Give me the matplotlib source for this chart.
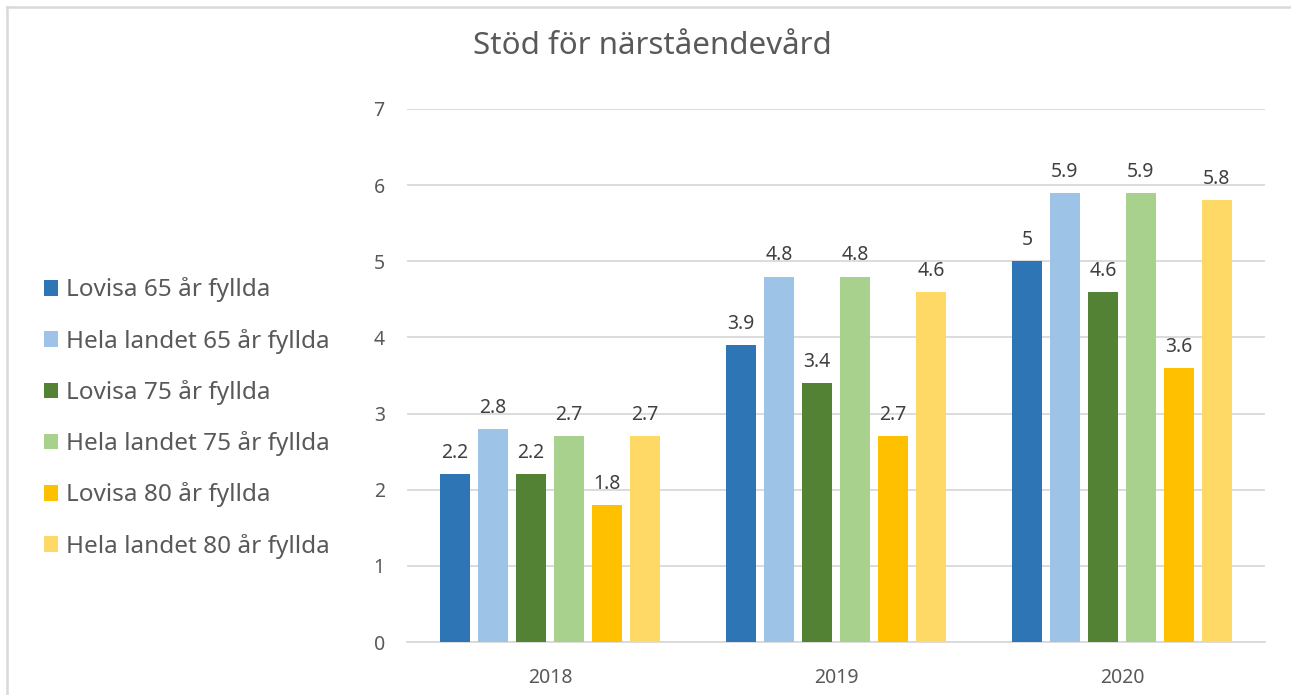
import numpy as np
import matplotlib
matplotlib.use("Agg")
import matplotlib.pyplot as plt
from matplotlib.lines import Line2D

plt.rcParams['font.family'] = ['Noto Sans', 'DejaVu Sans']

years = ["2018", "2019", "2020"]
series = ["Lovisa 65 år fyllda", "Hela landet 65 år fyllda",
          "Lovisa 75 år fyllda", "Hela landet 75 år fyllda",
          "Lovisa 80 år fyllda", "Hela landet 80 år fyllda"]
lovisa_65 = [2.2, 3.9, 5]
hela_65 = [2.8, 4.8, 5.9]
lovisa_75 = [2.2, 3.4, 4.6]
hela_75 = [2.7, 4.8, 5.9]
lovisa_80 = [1.8, 2.7, 3.6]
hela_80 = [2.7, 4.6, 5.8]
values = [lovisa_65, hela_65, lovisa_75, hela_75, lovisa_80, hela_80]
colors = ["#2E75B6", "#9DC3E6", "#548235", "#A9D18E", "#FFC000", "#FFD966"]

text_col = "#595959"
grid_col = "#D9D9D9"

fig = plt.figure(figsize=(12.91, 6.95), dpi=100)
ax = fig.add_axes([407/1291, 53/695, 858/1291, 533/695])

x = np.arange(len(years))
bw = 30/286
step = 38/286
for i, (name, vals, c) in enumerate(zip(series, values, colors)):
    pos = x + (i - 2.5)*step
    bars = ax.bar(pos, vals, width=bw, color=c, label=name, zorder=3)
    for b, v in zip(bars, vals):
        ax.annotate(f"{v:g}", (b.get_x() + b.get_width()/2, v), xytext=(0, 8),
                    textcoords="offset points", ha="center", va="bottom",
                    fontsize=14, color="#404040")

ax.set_xlim(-0.5, 2.5)
ax.set_ylim(0, 7)
ax.set_yticks(range(8))
ax.set_xticks(x)
ax.set_xticklabels(years)
ax.yaxis.grid(True, color=grid_col, linewidth=1.3, zorder=0)
for s in ["top", "right", "left"]:
    ax.spines[s].set_visible(False)
ax.spines["bottom"].set_color(grid_col)
ax.spines["bottom"].set_linewidth(1.3)
ax.tick_params(axis="both", length=0, colors=text_col, labelsize=14)
ax.tick_params(axis="y", pad=16)
ax.tick_params(axis="x", pad=19)

fig.text(652/1291, 1 - 46/695, "Stöd för närståendevård", ha="center", va="center",
         fontsize=22.5, color=text_col)

handles, labels = ax.get_legend_handles_labels()
leg = fig.legend(handles, labels, loc="center left", bbox_to_anchor=(22/1291, 1 - 418/695),
                 frameon=False, fontsize=17.5, labelcolor=text_col,
                 handlelength=0.6, handleheight=0.6, handletextpad=0.3,
                 labelspacing=1.08)

# chart area border (only top and left edges visible in the crop)
fig.lines.append(Line2D([7/1291, 1], [1 - 7/695, 1 - 7/695], transform=fig.transFigure,
                        color=grid_col, linewidth=1.8))
fig.lines.append(Line2D([7/1291, 7/1291], [0, 1 - 7/695], transform=fig.transFigure,
                        color=grid_col, linewidth=1.8))

fig.savefig("out.png", dpi=100)
